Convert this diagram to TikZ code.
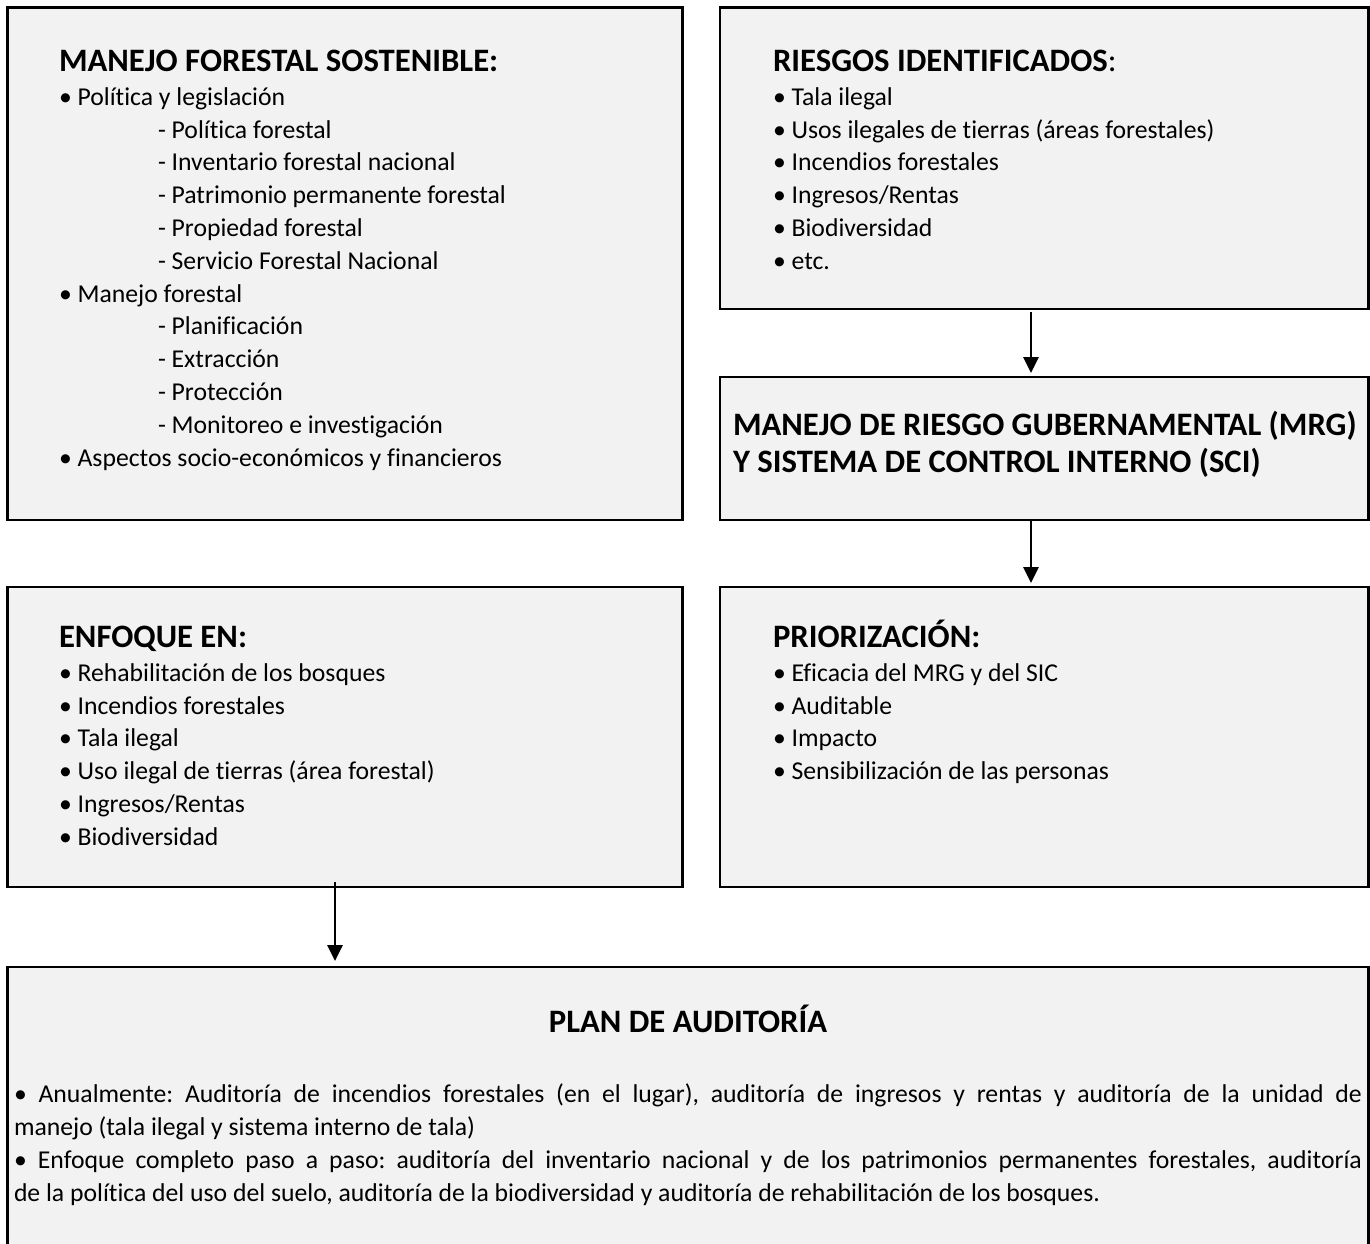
\documentclass[tikz,border=0pt]{standalone}
\usepackage{fontspec}
\setmainfont{Carlito}[Ligatures={NoCommon}]
\usetikzlibrary{arrows.meta,calc}
\definecolor{boxgray}{HTML}{F2F2F2}
\setlength\parindent{0pt}
\frenchspacing
\newcommand\bodyfont{\fontsize{25.7}{32.8}\selectfont}
\newcommand\tfont{\fontsize{32.7}{32.8}\selectfont\bfseries}
\newcommand\tstrut{\rule{0pt}{30pt}}
\newcommand\sbi{\hspace*{99pt}- }
\tikzset{
 box/.style={draw=black, line width=2.2pt, fill=boxgray, anchor=north west, inner sep=0pt, outer sep=0pt},
 txt/.style={anchor=north west, inner sep=0pt, outer sep=0pt, align=left, font=\bodyfont},
 arr/.style={line width=2.7pt, -{Triangle[width=15pt,length=16pt]}}
}
\begin{document}
\begin{tikzpicture}[x=1pt,y=-1pt]
\useasboundingbox (0,0) rectangle (1370,1243);
\clip (0,0) rectangle (1370,1243);
% boxes
\node[box, minimum width=675pt, minimum height=512.5pt] (mfs) at (7.5,7.5) {};
\node[box, minimum width=648.5pt, minimum height=301.5pt] (ris) at (720,7.5) {};
\node[box, minimum width=648.5pt, minimum height=143pt] (mrg) at (720,377) {};
\node[box, minimum width=675pt, minimum height=300pt] (enf) at (7.5,587) {};
\node[box, minimum width=648.5pt, minimum height=300pt] (pri) at (720,587) {};
\node[box, minimum width=1361pt, minimum height=300pt] (plan) at (7.5,967) {};
% arrows
\coordinate (ax) at (1031,0);
\coordinate (bx) at (335,0);
\draw[arr] ($(ris.south -| ax)+(0,3)$) -- ($(mrg.north -| ax)+(0,-4)$);
\draw[arr] ($(mrg.south -| ax)+(0,1)$) -- ($(pri.north -| ax)+(0,-4)$);
\draw[arr] ($(enf.south -| bx)+(0,-5)$) -- ($(plan.north -| bx)+(0,-6)$);
% texts
\node[txt] (t1) at (59,41.5) {{\tfont\tstrut MANEJO FORESTAL SOSTENIBLE:}\\[1pt]
• Política y legislación\\
\sbi Política forestal\\
\sbi Inventario forestal nacional\\
\sbi Patrimonio permanente forestal\\
\sbi Propiedad forestal\\
\sbi Servicio Forestal Nacional\\
• Manejo forestal\\
\sbi Planificación\\
\sbi Extracción\\
\sbi Protección\\
\sbi Monitoreo e investigación\\
• Aspectos socio-económicos y financieros};
\node[txt] (t2) at (773,41.5) {{\tfont\tstrut RIESGOS IDENTIFICADOS}{\fontsize{32.7}{32.8}\selectfont:}\\[1pt]
• Tala ilegal\\
• Usos ilegales de tierras (áreas forestales)\\
• Incendios forestales\\
• Ingresos/Rentas\\
• Biodiversidad\\
• etc.};
\node[txt] (t3) at (733,405.5) {{\tfont\tstrut MANEJO DE RIESGO GUBERNAMENTAL (MRG)}\\[4.2pt]
{\tfont Y SISTEMA DE CONTROL INTERNO (SCI)}};
\node[txt] (t4) at (59,617.5) {{\tfont\tstrut ENFOQUE EN:}\\[1pt]
• Rehabilitación de los bosques\\
• Incendios forestales\\
• Tala ilegal\\
• Uso ilegal de tierras (área forestal)\\
• Ingresos/Rentas\\
• Biodiversidad};
\node[txt] (t5) at (773,617.5) {{\tfont\tstrut PRIORIZACIÓN:}\\[1pt]
• Eficacia del MRG y del SIC\\
• Auditable\\
• Impacto\\
• Sensibilización de las personas};
\node[anchor=base, inner sep=0pt, font=\tfont] (t6) at (688,1032.5) {PLAN DE AUDITORÍA};
\node[txt, text width=1348pt, align=justify, font=\fontsize{25.7}{33.3}\selectfont] (t7) at (14,1072) {\tolerance=9999\hyphenpenalty=10000\tstrut• Anualmente: Auditoría de incendios forestales (en el lugar), auditoría de ingresos y rentas y auditoría de la unidad de\linebreak manejo (tala ilegal y sistema interno de tala)\\
• Enfoque completo paso a paso: auditoría del inventario nacional y de los patrimonios permanentes forestales, auditoría\linebreak de la política del uso del suelo, auditoría de la biodiversidad y auditoría de rehabilitación de los bosques.};
\end{tikzpicture}
\end{document}
